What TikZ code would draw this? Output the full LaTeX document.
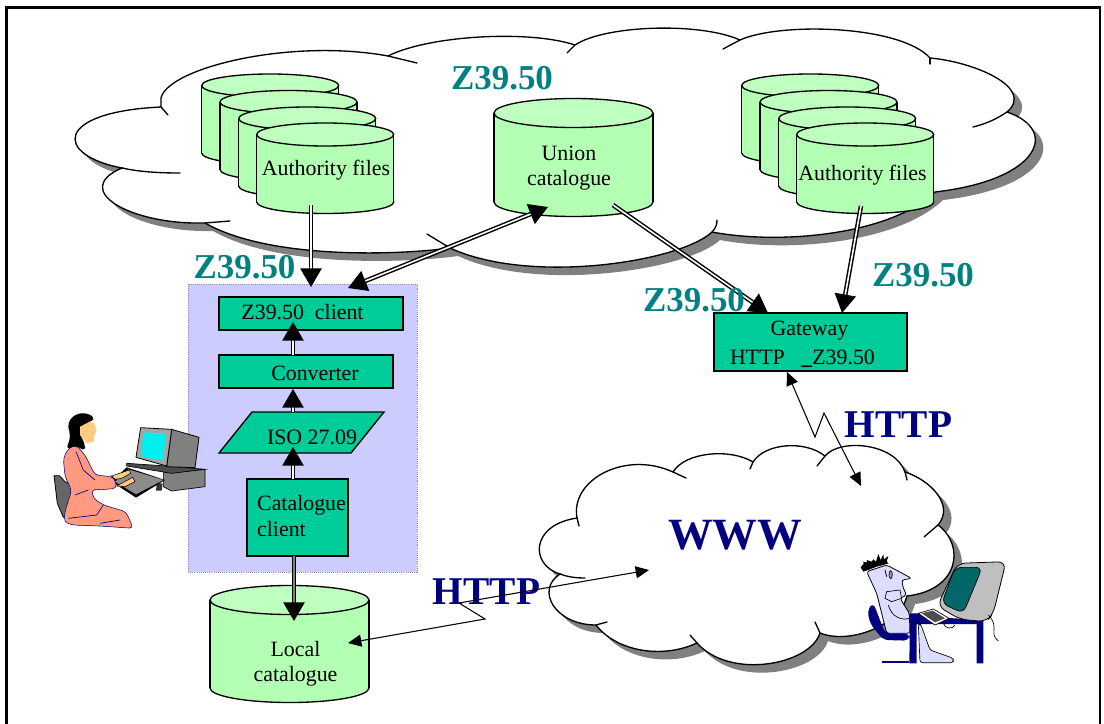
\documentclass[tikz,border=0pt]{standalone}
\usepackage{fontspec}
\setmainfont{Liberation Serif}
\usetikzlibrary{arrows.meta}
\definecolor{boxgreen}{HTML}{00CC99}
\definecolor{cylbody}{HTML}{B3FFB3}
\definecolor{cyltop}{HTML}{BFFFBF}
\definecolor{panel}{HTML}{CCCCFF}
\definecolor{teallab}{HTML}{008080}
\definecolor{navylab}{HTML}{000080}
\definecolor{shadowgray}{HTML}{808080}
\definecolor{pinkbody}{HTML}{FF9980}
\definecolor{skin}{HTML}{FFCC80}
\definecolor{manbody}{HTML}{DDDDFF}
\definecolor{screencyan}{HTML}{00F0F0}
\definecolor{screenteal}{HTML}{006666}
\tikzset{
  outl/.style={draw=black,line width=1pt},
  boxn/.style={draw=black,line width=1pt,fill=boxgreen,inner sep=0pt},
  txt/.style={font=\fontsize{16.4}{18.8}\selectfont,inner sep=0pt,text=black},
  zlab/.style={font=\fontsize{26.2}{28}\selectfont\bfseries,text=teallab,inner sep=0pt},
  hlab/.style={font=\fontsize{29.5}{32}\selectfont\bfseries,text=navylab,inner sep=0pt},
  wlab/.style={font=\fontsize{33.5}{36}\selectfont\bfseries,text=navylab,inner sep=0pt},
  dbl/.style={line width=1.1pt,double=white,double distance=1.2pt,-{Triangle[length=14pt,width=16pt]}},
  thin2/.style={line width=0.8pt,{Triangle[length=10pt,width=9pt]}-{Triangle[length=10pt,width=9pt]}},
  tail/.style={line width=1pt,draw=black,line cap=round},
}
\newcommand{\cylshape}[5]{% x, width, center y of top, ry, side bottom y
  \pgfmathsetmacro{\cx}{#1+#2/2}\pgfmathsetmacro{\rx}{#2/2}\pgfmathsetmacro{\xr}{#1+#2}
  \draw[outl,fill=cylbody] (\cx,#5) ellipse[x radius=\rx,y radius=#4];
  \fill[cylbody] (#1,#3) rectangle (\xr,#5);
  \draw[outl] (#1,#3) -- (#1,#5) (\xr,#3) -- (\xr,#5);
  \draw[outl,fill=cyltop] (\cx,#3) ellipse[x radius=\rx,y radius=#4];
}
\newcommand{\topcloud}{
  (161,98) .. controls (168,68) and (290,38) .. (388,56)
  .. controls (430,35) and (530,30) .. (575,45)
  .. controls (605,25) and (700,22) .. (740,40)
  .. controls (780,22) and (900,25) .. (930,58)
  .. controls (975,62) and (1035,88) .. (1007,112)
  .. controls (1060,130) and (1040,180) .. (935,192)
  .. controls (890,235) and (780,245) .. (712,232)
  .. controls (680,262) and (530,285) .. (450,248)
  .. controls (400,255) and (270,260) .. (205,223)
  .. controls (130,225) and (70,190) .. (122,168)
  .. controls (54,155) and (54,112) .. (161,107)
  -- cycle}
\newcommand{\wwwcloud}{
  (577,518) .. controls (570,480) and (625,450) .. (673,472)
  .. controls (685,452) and (730,448) .. (753,462)
  .. controls (765,443) and (805,440) .. (825,456)
  .. controls (840,438) and (895,443) .. (905,472)
  .. controls (930,480) and (955,505) .. (938,525)
  .. controls (965,545) and (960,590) .. (907,596)
  .. controls (900,625) and (850,645) .. (820,633)
  .. controls (810,665) and (730,680) .. (697,643)
  .. controls (660,660) and (615,650) .. (596,625)
  .. controls (555,625) and (535,590) .. (560,574)
  .. controls (530,565) and (530,525) .. (577,518)
  -- cycle}
\begin{document}
\begin{tikzpicture}[x=0.75pt,y=-0.75pt]
\useasboundingbox (0,0) rectangle (1104,724);
% frame
\draw[line width=1.6pt] (6.5,724) -- (6.5,7.5) -- (1100,7.5) -- (1100,724);
% top cloud
\fill[shadowgray,shift={(8,8)}] \topcloud;
\fill[white] \topcloud;
\draw[outl] (161,98) .. controls (168,68) and (290,38) .. (388,56)
  .. controls (430,35) and (530,30) .. (575,45)
  .. controls (605,25) and (700,22) .. (740,40)
  .. controls (780,22) and (900,25) .. (930,58)
  .. controls (975,62) and (1035,88) .. (1007,112)
  .. controls (1060,130) and (1040,180) .. (935,192)
  .. controls (890,235) and (780,245) .. (712,232)
  .. controls (680,262) and (530,285) .. (450,248)
  .. controls (400,255) and (270,260) .. (205,223)
  .. controls (130,225) and (70,190) .. (122,168)
  .. controls (54,155) and (54,112) .. (161,107) -- (161,98);
\draw[tail] (161,107) -- (168,115);
\draw[tail] (122,168) .. controls (140,172) and (160,173) .. (180,173);
\draw[tail] (205,223) -- (230,221);
\draw[tail] (450,248) -- (427,234);
\draw[tail] (712,232) .. controls (716,228) and (717,224) .. (717,220);
\draw[tail] (1007,112) .. controls (995,120) and (985,124) .. (973,127);
\draw[tail] (930,58) -- (930,64);
\draw[tail] (740,40) -- (723,49);
\draw[tail] (575,45) -- (567,53);
\draw[tail] (388,56) -- (417,63);
% cylinders
\foreach \i/\x/\y in {0/201.7/85.5,1/220/102,2/238.7/118.5,3/256.7/134.5}{
  \pgfmathsetmacro{\yb}{\y+67.5}\cylshape{\x}{137}{\y}{11.5}{\yb}}
\foreach \i/\x/\y in {0/741.7/85.5,1/760/102,2/778.7/118.5,3/796.7/134.5}{
  \pgfmathsetmacro{\yb}{\y+67.5}\cylshape{\x}{137}{\y}{11.5}{\yb}}
\cylshape{494}{159}{113}{14.5}{202}
\node[txt] (authl) at (326,170) {Authority files};
\node[txt] (authr) at (862.5,175) {Authority files};
\node[txt,align=center] (union) at (569,168) {Union\\catalogue};
\coordinate (authlout) at (311,205);
\coordinate (authrout) at (861,206);
\coordinate (unionin) at (548,207);
\coordinate (unionout) at (613,205);
% panel
\draw[panel!70!black,line width=0.6pt,densely dotted,fill=panel] (188,284) rectangle (417,572);
% boxes
\node[boxn,minimum width=138pt,minimum height=24.75pt] (zclient) at (311,313.5) {};
\node[txt] at (302.5,312) {Z39.50\ \ client};
\node[boxn,minimum width=130.5pt,minimum height=24.75pt] (conv) at (306,371.5) {};
\node[txt] at (315,373) {Converter};
\draw[outl,fill=boxgreen] (252,412) -- (384,412) -- (351,453) -- (219,453) -- cycle;
\node[txt] (iso) at (312,437) {ISO 27.09};
\node[boxn,minimum width=75.75pt,minimum height=57.75pt] (cat) at (297.5,517.5) {};
\node[txt,align=left] at (301.5,516) {Catalogue\\client};
\cylshape{210}{159}{600}{14.5}{688}
\node[txt,align=center] (local) at (295.5,664) {Local\\catalogue};
% gateway
\node[boxn,minimum width=144.75pt,minimum height=43.5pt] (gw) at (810.5,342) {};
\node[txt] at (809.5,330.5) {Gateway};
\node[txt] at (802.5,359) {HTTP\ \ \ \textbf{\_}Z39.50};
% www cloud
\fill[shadowgray,shift={(8,8)}] \wwwcloud;
\fill[white] \wwwcloud;
\draw[outl] (577,518) .. controls (570,480) and (625,450) .. (673,472)
  .. controls (685,452) and (730,448) .. (753,462)
  .. controls (765,443) and (805,440) .. (825,456)
  .. controls (840,438) and (895,443) .. (905,472)
  .. controls (930,480) and (955,505) .. (938,525)
  .. controls (965,545) and (960,590) .. (907,596)
  .. controls (900,625) and (850,645) .. (820,633)
  .. controls (810,665) and (730,680) .. (697,643)
  .. controls (660,660) and (615,650) .. (596,625)
  .. controls (555,625) and (535,590) .. (560,574)
  .. controls (530,565) and (530,525) .. (577,518);
\draw[tail] (673,472) -- (686,478);
\draw[tail] (753,462) -- (750,469);
\draw[tail] (825,456) -- (817,466);
\draw[tail] (905,472) -- (907,480);
\draw[tail] (938,525) -- (924,537);
\draw[tail] (820,633) -- (815,622);
\draw[tail] (697,643) -- (690,635);
\draw[tail] (596,625) -- (607,622);
\draw[tail] (560,574) .. controls (568,577) and (576,578) .. (585,578);
\draw[tail] (577,518) -- (579,526);
% woman
\begin{scope}[shift={(0,380)},x=0.25pt,y=-0.25pt]
  \draw[line width=0.6pt,fill=black!60] (162,287) -- (178,287) -- (195,305) -- (215,315) -- (232,410) -- (190,412) -- (172,370) -- cycle;
  \draw[line width=0.5pt,fill=black!50] (490,278) -- (615,268) -- (615,320) -- (515,333) -- (490,320) -- cycle;
  \draw[line width=0.5pt,fill=black!70] (380,250) -- (500,258) -- (615,268) -- (515,280) -- (380,258) -- cycle;
  \draw[line width=0.6pt,fill=black!50] (515,148) -- (597,172) -- (585,263) -- (500,260) -- cycle;
  \draw[line width=0.6pt,fill=black!35] (422,143) -- (515,148) -- (500,258) -- (408,232) -- cycle;
  \fill[screencyan] (430,157) -- (497,160) -- (490,242) -- (422,230) -- cycle;
  \fill[black!80] (470,310) -- (488,310) -- (485,332) -- (468,332) -- cycle;
  \fill[black] (335,305) -- (380,262) -- (495,300) -- (408,353) -- cycle;
  \fill[black!45] (345,305) -- (385,268) -- (490,300) -- (408,343) -- cycle;
  \draw[navylab,line width=0.4pt,fill=pinkbody,rounded corners=3pt] (190,235) -- (205,205) -- (228,195) -- (255,225) -- (285,285) -- (335,290) -- (345,298) -- (350,325) -- (295,330) -- (275,328) -- (280,355) -- (310,375) -- (378,395) -- (400,445) -- (300,438) -- (215,435) -- (192,425) -- (195,395) -- (215,330) -- (195,290) -- cycle;
  \draw[navylab,line width=0.5pt] (228,215) -- (250,270) -- (285,300) (225,345) -- (265,330) (205,415) -- (290,405) -- (310,375) (300,430) -- (360,420);
  \draw[black,line width=0.4pt,fill=skin] (335,288) -- (388,270) -- (392,280) -- (365,295) -- (345,298) -- cycle;
  \draw[black,line width=0.4pt,fill=skin] (350,318) -- (398,292) -- (405,305) -- (375,320) -- cycle;
  \fill[black,rounded corners=4pt] (202,130) -- (225,102) -- (260,98) -- (287,115) -- (270,125) -- (240,140) -- (240,165) -- (255,190) -- (255,215) -- (228,195) -- (198,210) -- (212,170) -- cycle;
  \fill[skin] (240,140) -- (270,125) -- (283,130) -- (290,155) -- (283,165) -- (282,185) -- (260,190) -- (240,165) -- cycle;
\end{scope}
% man
\begin{scope}[shift={(820,530)},x=0.25pt,y=-0.25pt]
  \fill[navylab,rounded corners=4pt] (142,240) -- (160,218) -- (195,310) -- (270,310) -- (268,332) -- (190,330) -- (150,280) -- cycle;
  \fill[navylab] (185,392) -- (268,392) -- (268,400) -- (185,400) -- cycle;
  \fill[navylab] (270,250) -- (300,250) -- (350,262) -- (490,270) -- (490,400) -- (470,400) -- (470,282) -- (290,282) -- (290,400) -- (268,400) -- cycle;
  \draw[line width=0.5pt,fill=manbody,rounded corners=2pt] (295,282) -- (302,282) -- (330,360) -- (400,385) -- (400,398) -- (300,398) -- cycle;
  \draw[line width=0.6pt,fill=manbody,rounded corners=2pt] (140,125) -- (200,105) -- (275,145) -- (245,150) -- (250,175) -- (260,195) -- (240,205) -- (268,250) -- (270,310) -- (200,310) -- (180,230) -- (170,190) -- cycle;
  \draw[line width=0.5pt,fill=manbody] (195,205) -- (200,185) -- (240,180) -- (245,205) -- (215,215) -- cycle;
  \draw[line width=0.5pt] (205,225) .. controls (215,262) and (245,272) .. (268,265);
  \fill[black] (122,112) -- (132,100) -- (128,95) -- (142,97) -- (140,90) -- (155,95) -- (160,88) -- (168,95) -- (175,72) -- (182,90) -- (190,73) -- (192,88) -- (205,78) -- (200,95) -- (206,100) -- (190,105) -- (170,110) -- (150,118) -- (130,125) -- cycle;
  \draw[line width=0.5pt,fill=black!40] (212,134) ellipse[x radius=5,y radius=12];
  \draw[line width=0.6pt] (195,120) -- (200,140);
  \draw[line width=0.6pt,fill=black!25,rounded corners=6pt] (412,100) -- (558,95) -- (520,250) -- (500,275) -- (420,268) -- (352,228) -- cycle;
  \draw[line width=0.5pt,fill=screenteal,rounded corners=5pt] (405,112) -- (487,112) -- (430,250) -- (365,220) -- cycle;
  \draw[line width=0.5pt,fill=white] (295,250) -- (340,237) -- (387,265) -- (345,285) -- cycle;
  \fill[black!70] (305,250) -- (338,242) -- (375,265) -- (345,277) -- cycle;
  \draw[line width=0.5pt] (505,255) .. controls (540,290) and (505,310) .. (535,333);
  \draw[line width=0.5pt] (370,280) .. controls (375,298) and (400,298) .. (405,285);
\end{scope}
% connectors
\coordinate (wwwin) at (649,570);
\coordinate (wwwin2) at (861,486);
\coordinate (localin) at (348,643);
\coordinate (gwb) at (787,372);
\node[hlab] (http1) at (486.5,592) {HTTP};
\node[hlab] (http2) at (898.5,425) {HTTP};
\node[wlab] (www) at (735,535) {WWW};
\draw[thin2] (localin) -- (485,619) -- (459,603) -- (wwwin);
\draw[thin2] (gwb) -- (815,437) -- (824,413) -- (wwwin2);
\draw[dbl] (authlout) -- (311,287);
\draw[dbl,{Triangle[length=14pt,width=16pt]}-{Triangle[length=14pt,width=16pt]}] (348,288) -- (unionin);
\draw[dbl] (293,355) -- (293,322);
\draw[dbl] (293,412) -- (293,389);
\draw[dbl] (293,479) -- (293,447);
\draw[dbl,double=black!50] (294,556) -- (294,621);
\draw[dbl] (unionout) -- (768,313);
\draw[dbl] (authrout) -- (842,313);
\node[zlab] (z1) at (502,78) {Z39.50};
\node[zlab] (z2) at (244.5,267) {Z39.50};
\node[zlab] (z3) at (694,300) {Z39.50};
\node[zlab] (z4) at (923,275) {Z39.50};
\end{tikzpicture}
\end{document}
